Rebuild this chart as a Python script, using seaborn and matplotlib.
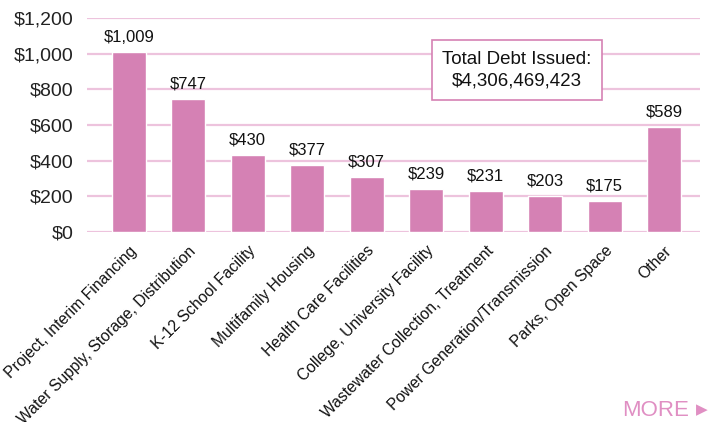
import numpy as np
import pandas as pd
import matplotlib
matplotlib.use("Agg")
import matplotlib.pyplot as plt
import seaborn as sns

categories = [
    "Project, Interim Financing",
    "Water Supply, Storage, Distribution",
    "K-12 School Facility",
    "Multifamily Housing",
    "Health Care Facilities",
    "College, University Facility",
    "Wastewater Collection, Treatment",
    "Power Generation/Transmission",
    "Parks, Open Space",
    "Other",
]
values = [1009, 747, 430, 377, 307, 239, 231, 203, 175, 589]  # $ millions
y_ticks = [0, 200, 400, 600, 800, 1000, 1200]
total_text = "Total Debt Issued:\n$4,306,469,423"

pink = "#D581B4"
grid_pink = "#EDC3DD"

sns.set_style("white")
plt.rcParams["font.family"] = ["Liberation Sans", "DejaVu Sans"]

df = pd.DataFrame({"category": categories, "value": values})

fig = plt.figure(figsize=(7.14, 4.22), dpi=100)
ax = fig.add_axes([0.122, 0.450, 0.858, 0.507])

sns.barplot(data=df, x="category", y="value", color=pink, saturation=1,
            width=0.57, ax=ax, zorder=3)

ax.set_ylim(0, 1200)
ax.set_xlim(-0.7, 9.6)
ax.set_yticks(y_ticks)
ax.set_yticklabels([f"${v:,}" for v in y_ticks], fontsize=14, color="#222222")
for v in y_ticks:
    ax.axhline(v, color=grid_pink, lw=1.6, zorder=1)

ax.set_xticks(range(len(categories)))
ax.set_xticklabels(categories, rotation=45, ha="right", rotation_mode="anchor",
                   fontsize=11.3, color="#111111")
ax.tick_params(axis="y", length=0, pad=10)
ax.tick_params(axis="x", length=0, pad=8)
ax.set_xlabel("")
ax.set_ylabel("")
for s in ax.spines.values():
    s.set_visible(False)

for i, v in enumerate(values):
    ax.text(i, v + 42, f"${v:,}", ha="center", va="bottom", fontsize=12,
            color="#111111", zorder=4)

ax.text(6.52, 908, total_text, ha="center", va="center", fontsize=13.5,
        linespacing=1.4, color="#111111", zorder=5,
        bbox=dict(boxstyle="square,pad=0.55", fc="white", ec=pink, lw=1.2))

fig.text(0.871, 0.003, "MORE", fontsize=16, color="#E08FC3", ha="left", va="bottom")
fig.text(0.975, 0.012, "\u25B6", fontsize=11, color="#E08FC3", ha="left", va="bottom",
         family="DejaVu Sans")

fig.savefig("out.png", dpi=100)
